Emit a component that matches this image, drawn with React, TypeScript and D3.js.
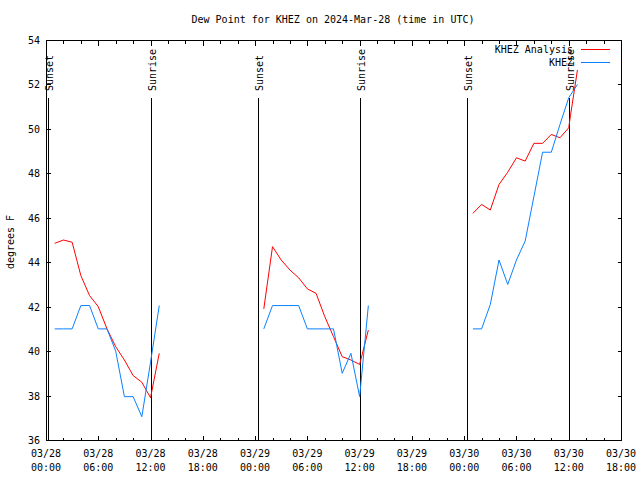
import React from "react";
import * as d3 from "d3";

const TITLE = "Dew Point for KHEZ on 2024-Mar-28 (time in UTC)";
const Y_LABEL = "degrees F";
const START = Date.UTC(2024, 2, 28, 0, 0);
const END = Date.UTC(2024, 2, 30, 18, 0);
const Y_DOMAIN: [number, number] = [36, 54];
const Y_TICKS = [36, 38, 40, 42, 44, 46, 48, 50, 52, 54];

// hours since 03/28 00:00 UTC
const analysisHours = [
  [1, 2, 3, 4, 5, 6, 7, 8, 9, 10, 11, 12, 13],
  [25, 26, 27, 28, 29, 30, 31, 32, 33, 34, 35, 36, 37],
  [49, 50, 51, 52, 53, 54, 55, 56, 57, 58, 59, 60, 60.2, 61],
];
const analysisValues = [
  [44.85, 45.0, 44.9, 43.4, 42.5, 42.0, 41.0, 40.2, 39.6, 38.9, 38.6, 37.9, 39.9],
  [41.9, 44.7, 44.1, 43.65, 43.3, 42.8, 42.6, 41.55, 40.65, 39.75, 39.6, 39.4, 40.95],
  [46.2, 46.6, 46.35, 47.5, 48.05, 48.7, 48.55, 49.35, 49.35, 49.75, 49.6, 50.05, 50.6, 52.65],
];
const obsHours = [
  [1, 2, 3, 4, 5, 6, 7, 8, 9, 10, 11, 12, 13],
  [25, 26, 27, 28, 29, 30, 31, 32, 33, 34, 35, 36, 37],
  [49, 50, 51, 52, 53, 54, 55, 56, 57, 58, 59, 60, 61],
];
const obsValues = [
  [41.0, 41.0, 41.0, 42.05, 42.05, 41.0, 41.0, 40.0, 37.95, 37.95, 37.05, 39.5, 42.05],
  [41.0, 42.05, 42.05, 42.05, 42.05, 41.0, 41.0, 41.0, 41.0, 39.0, 39.9, 37.95, 42.05],
  [41.0, 41.0, 42.1, 44.1, 43.0, 44.1, 44.95, 46.95, 48.95, 48.95, 50.2, 51.4, 52.0],
];
const SERIES_NAMES = ["KHEZ Analysis", "KHEZ"];
const SERIES_COLORS = ["#ff0000", "#0a80ff"];

// sun events, hours since start
const sunsetHours = [0.28, 24.33, 48.35];
const sunriseHours = [12.05, 36.0, 60.0];

const W = 640;
const H = 480;
const M = { left: 46, right: 621, top: 40, bottom: 440 };
const FONT = "'DejaVu Sans Mono', monospace";

const hourToDate = (h: number) => new Date(START + h * 3600 * 1000);

export default function App() {
  const x = d3.scaleUtc().domain([new Date(START), new Date(END)]).range([M.left, M.right]);
  const y = d3.scaleLinear().domain(Y_DOMAIN).range([M.bottom, M.top]);
  const majorTicks = x.ticks(d3.utcHour.every(6)!);
  const minorTicks = x.ticks(d3.utcHour.every(2)!).filter((t) => t.getUTCHours() % 6 !== 0);
  const fmtDate = d3.utcFormat("%m/%d");
  const fmtTime = d3.utcFormat("%H:%M");
  const px = (v: number) => Math.round(v) + 0.5;

  const line = d3
    .line<[number, number]>()
    .x((d) => x(hourToDate(d[0])))
    .y((d) => y(d[1]));

  const seriesSegments = [
    analysisHours.map((hs, i) => hs.map((h, j) => [h, analysisValues[i][j]] as [number, number])),
    obsHours.map((hs, i) => hs.map((h, j) => [h, obsValues[i][j]] as [number, number])),
  ];

  const L = px(M.left), R = px(M.right), T = px(M.top), B = px(M.bottom);

  const sunEvents = [
    ...sunsetHours.map((h) => ({ h, label: "Sunset" })),
    ...sunriseHours.map((h) => ({ h, label: "Sunrise" })),
  ];

  return (
    <svg width={W} height={H} style={{ display: "block", position: "absolute", left: 0, top: 0, background: "#fff" }}>
      <rect x={0} y={0} width={W} height={H} fill="#fff" />
      <text x={333} y={23} fontFamily={FONT} fontSize={10} textAnchor="middle" fill="#000">
        {TITLE}
      </text>
      <text
        transform={`translate(14,242) rotate(-90)`}
        fontFamily={FONT}
        fontSize={10}
        textAnchor="middle"
        fill="#000"
      >
        {Y_LABEL}
      </text>

      {/* y ticks */}
      {Y_TICKS.map((t) => (
        <g key={"y" + t}>
          <line x1={L} x2={L + 4} y1={px(y(t))} y2={px(y(t))} stroke="#000" shapeRendering="crispEdges" />
          <line x1={R} x2={R - 4} y1={px(y(t))} y2={px(y(t))} stroke="#000" shapeRendering="crispEdges" />
          <text x={40} y={y(t) + 4} fontFamily={FONT} fontSize={10} textAnchor="end" fill="#000">
            {t}
          </text>
        </g>
      ))}

      {/* x ticks */}
      {majorTicks.map((t) => {
        const xx = px(x(t));
        return (
          <g key={"x" + t.getTime()}>
            <line x1={xx} x2={xx} y1={B} y2={B - 5} stroke="#000" shapeRendering="crispEdges" />
            <line x1={xx} x2={xx} y1={T} y2={T + 5} stroke="#000" shapeRendering="crispEdges" />
            <text x={x(t)} y={457} fontFamily={FONT} fontSize={10} textAnchor="middle" fill="#000">
              {fmtDate(t)}
            </text>
            <text x={x(t)} y={471} fontFamily={FONT} fontSize={10} textAnchor="middle" fill="#000">
              {fmtTime(t)}
            </text>
          </g>
        );
      })}
      {minorTicks.map((t) => {
        const xx = px(x(t));
        return (
          <g key={"m" + t.getTime()}>
            <line x1={xx} x2={xx} y1={B} y2={B - 3} stroke="#000" shapeRendering="crispEdges" />
            <line x1={xx} x2={xx} y1={T} y2={T + 3} stroke="#000" shapeRendering="crispEdges" />
          </g>
        );
      })}

      {/* border */}
      <rect x={L} y={T} width={R - L} height={B - T} fill="none" stroke="#000" shapeRendering="crispEdges" />

      {/* sun events */}
      {sunEvents.map((e, i) => {
        const xx = px(x(hourToDate(e.h)));
        return (
          <g key={"s" + i}>
            <line x1={xx} x2={xx} y1={98} y2={B} stroke="#000" shapeRendering="crispEdges" />
            <text
              transform={`translate(${xx + 4},91) rotate(-90)`}
              fontFamily={FONT}
              fontSize={10}
              textAnchor="start"
              fill="#000"
            >
              {e.label}
            </text>
          </g>
        );
      })}

      {/* data */}
      {seriesSegments.map((segs, si) =>
        segs.map((seg, k) => (
          <path key={`p${si}-${k}`} d={line(seg) || ""} fill="none" stroke={SERIES_COLORS[si]} strokeWidth={1} />
        ))
      )}

      {/* legend */}
      {SERIES_NAMES.map((name, i) => (
        <g key={"lg" + i}>
          <text x={573} y={53 + i * 13} fontFamily={FONT} fontSize={10} textAnchor="end" fill="#000">
            {name}
          </text>
          <line x1={581} x2={610} y1={49.5 + i * 13} y2={49.5 + i * 13} stroke={SERIES_COLORS[i]} strokeWidth={1} />
        </g>
      ))}
    </svg>
  );
}
